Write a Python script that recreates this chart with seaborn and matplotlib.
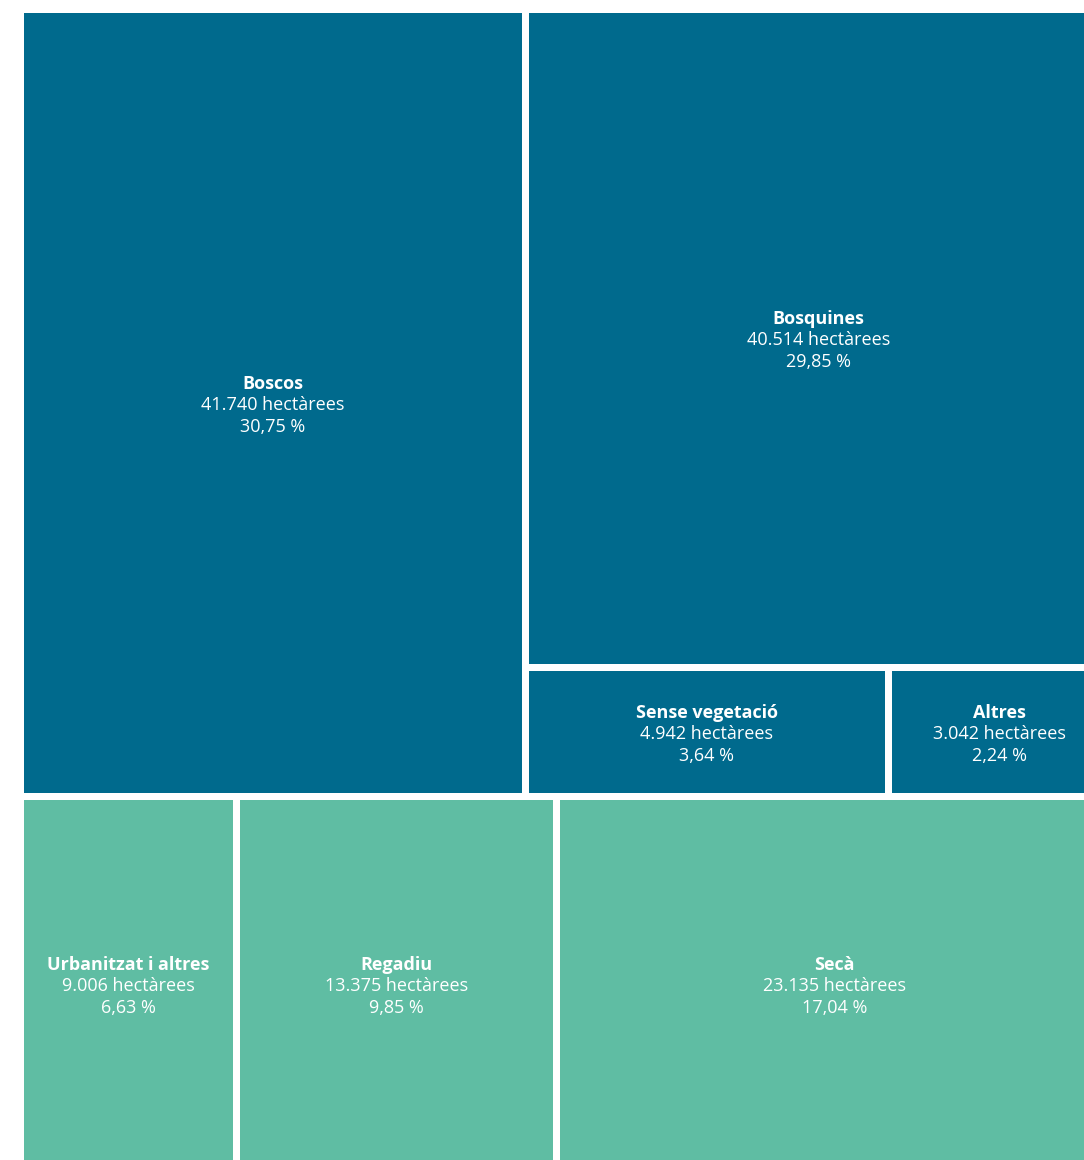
import matplotlib
matplotlib.use("Agg")
import matplotlib.pyplot as plt
from matplotlib.patches import Rectangle
import seaborn as sns

# Land use data (hectares)
top_labels = ["Boscos", "Bosquines", "Sense vegetació", "Altres"]
top_values = [41740, 40514, 4942, 3042]
top_pct = ["30,75 %", "29,85 %", "3,64 %", "2,24 %"]

bottom_labels = ["Urbanitzat i altres", "Regadiu", "Secà"]
bottom_values = [9006, 13375, 23135]
bottom_pct = ["6,63 %", "9,85 %", "17,04 %"]

top_color = "#006a8d"
bottom_color = "#5fbda3"

sns.set_theme(style="white")
plt.rcParams["font.family"] = ["Open Sans", "DejaVu Sans"]


def fmt(v):
    return f"{v:,}".replace(",", ".") + " hectàrees"


# Outer box of the treemap (it runs past the right and bottom edges)
X0, X1 = 20.5, 1111.5
Y0, Y1 = 9.5, 1194.0
GAP = 3.5

rects = []  # (x0, y0, x1, y1, label, value, pct, color)

total_top = sum(top_values)
total_bottom = sum(bottom_values)
y_split = Y0 + (Y1 - Y0) * total_top / (total_top + total_bottom)

# top group: Boscos on the left, the rest on the right
x_split = X0 + (X1 - X0) * top_values[0] / total_top
rects.append((X0, Y0, x_split, y_split, top_labels[0], top_values[0], top_pct[0], top_color))
rest = sum(top_values[1:])
y_split2 = Y0 + (y_split - Y0) * top_values[1] / rest
rects.append((x_split, Y0, X1, y_split2, top_labels[1], top_values[1], top_pct[1], top_color))
small = sum(top_values[2:])
x = x_split
for lab, v, p in zip(top_labels[2:], top_values[2:], top_pct[2:]):
    w = (X1 - x_split) * v / small
    rects.append((x, y_split2, x + w, y_split, lab, v, p, top_color))
    x += w

# bottom group: sliced horizontally
x = X0
for lab, v, p in zip(bottom_labels, bottom_values, bottom_pct):
    w = (X1 - X0) * v / total_bottom
    rects.append((x, y_split, x + w, Y1, lab, v, p, bottom_color))
    x += w

fig = plt.figure(figsize=(10.84, 11.6), dpi=100)
ax = fig.add_axes([0, 0, 1, 1])
ax.set_xlim(0, 1084)
ax.set_ylim(1160, 0)
ax.axis("off")

for x0, y0, x1, y1, lab, v, p, c in rects:
    ax.add_patch(Rectangle((x0 + GAP, y0 + GAP), x1 - x0 - 2 * GAP, y1 - y0 - 2 * GAP,
                           facecolor=c, edgecolor="none"))
    cx = (x0 + x1) / 2
    cy = (y0 + y1) / 2 + 2
    if lab in bottom_labels:
        cy = (y0 + min(y1, 1170)) / 2 + 3
    ax.text(cx, cy - 21.5, lab, color="white", fontsize=13, fontweight="bold",
            ha="center", va="center")
    ax.text(cx, cy, fmt(v), color="white", fontsize=13, ha="center", va="center")
    ax.text(cx, cy + 21.5, p, color="white", fontsize=13, ha="center", va="center")

fig.savefig("out.png", dpi=100)
